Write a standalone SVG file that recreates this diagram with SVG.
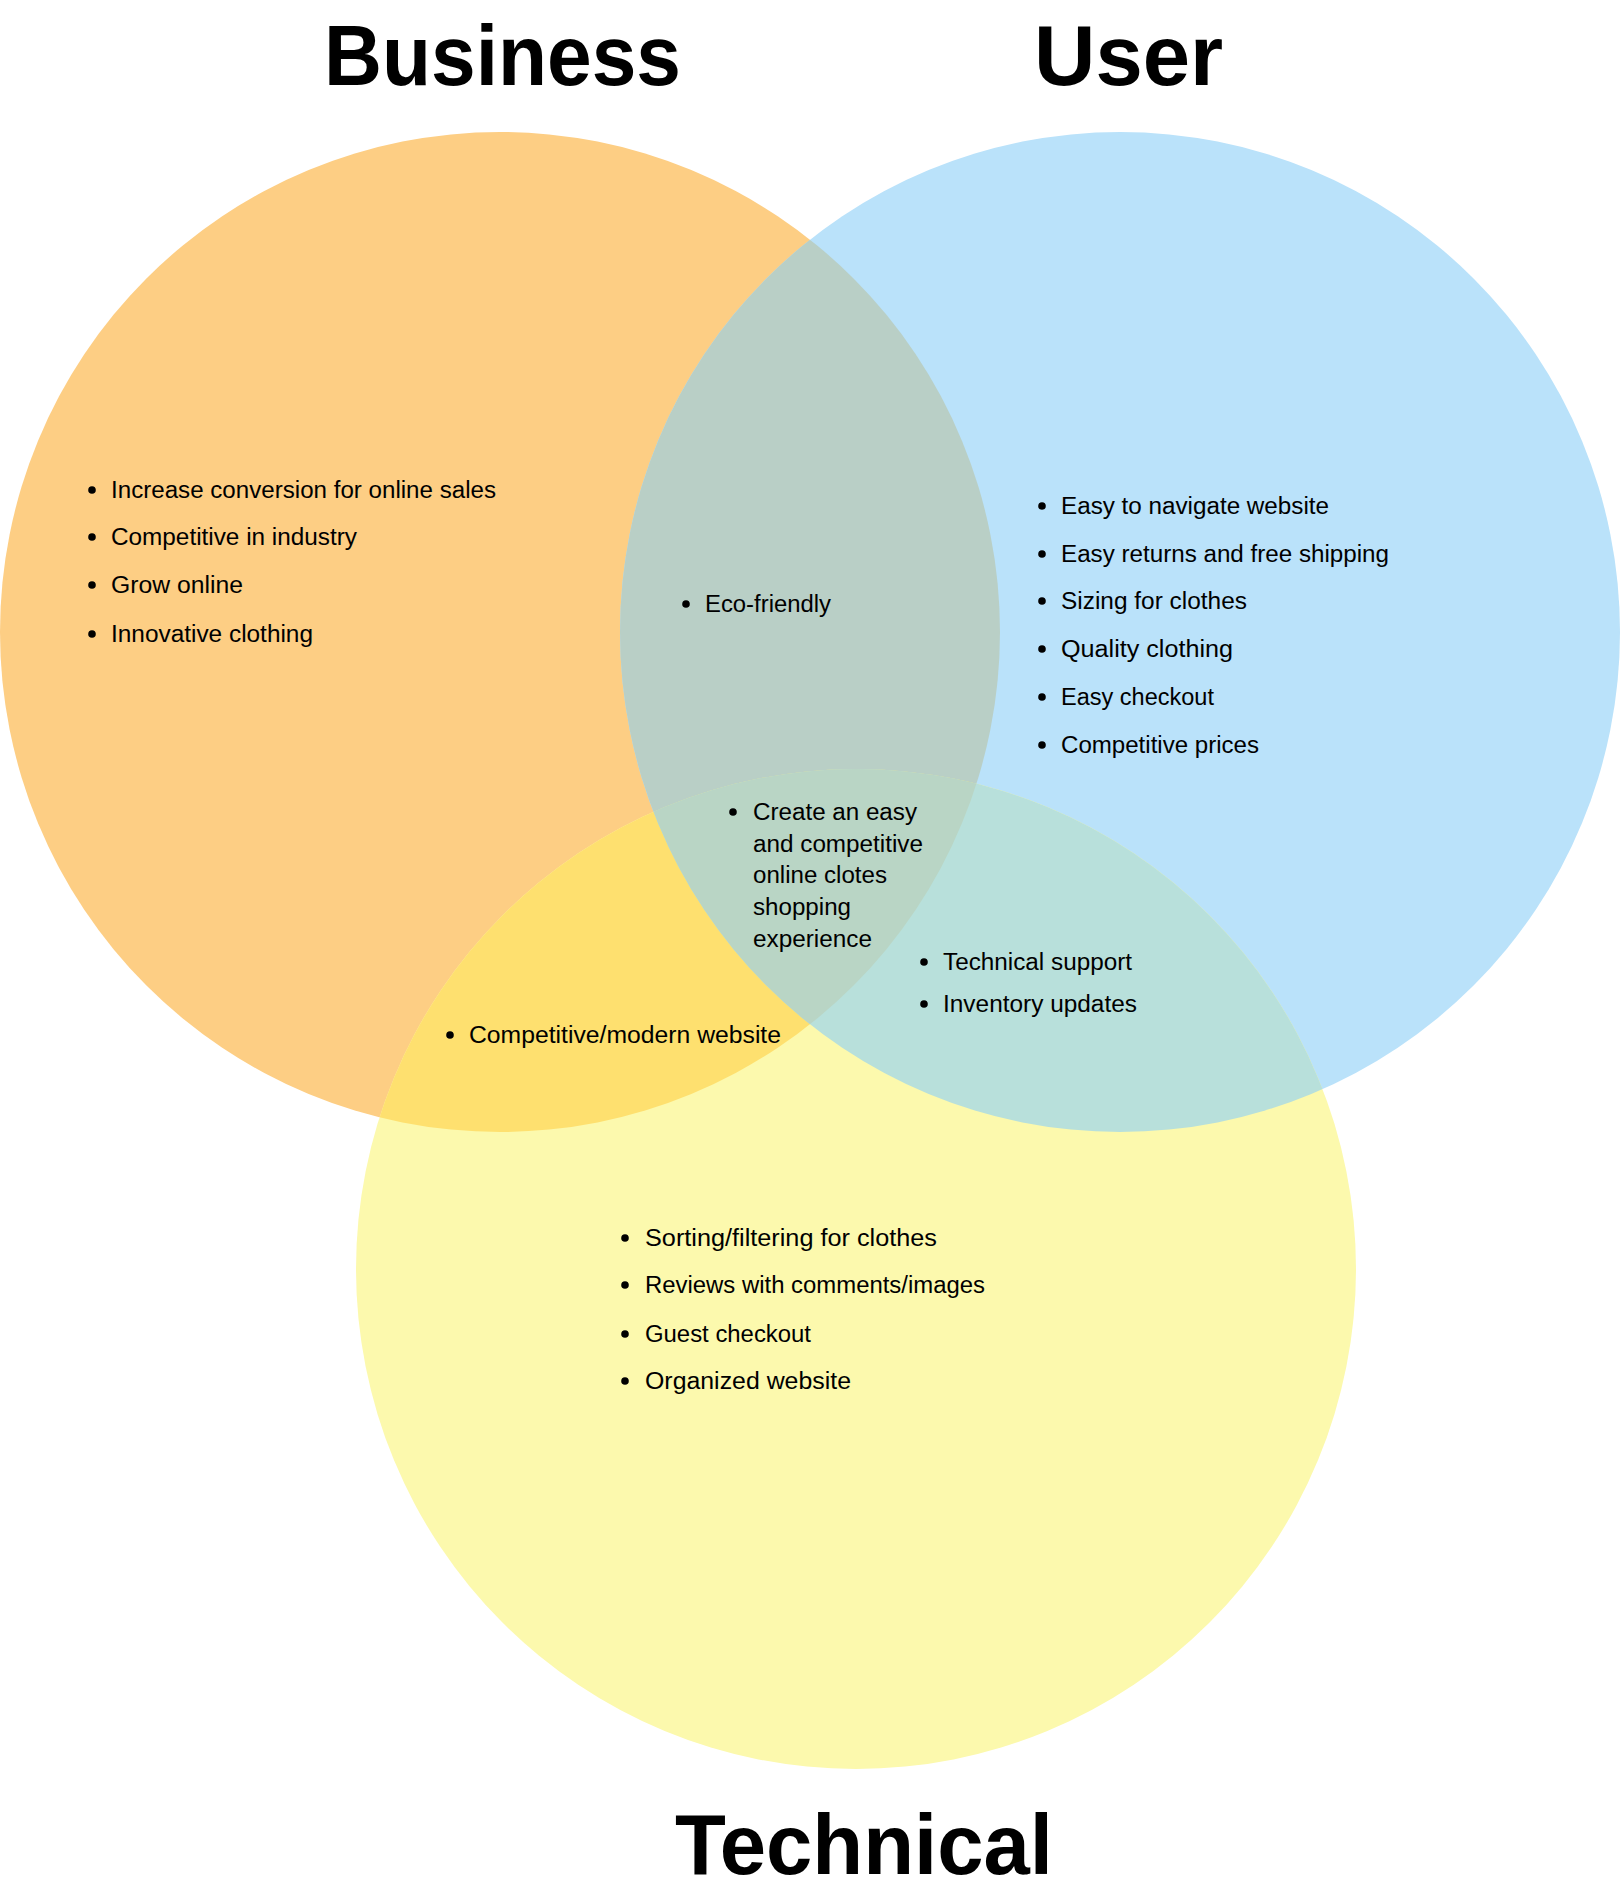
<svg xmlns="http://www.w3.org/2000/svg" width="1620" height="1896" viewBox="0 0 1620 1896">
<style>
.title{font-family:"Liberation Sans",Arial,sans-serif;font-weight:bold;font-size:85px;fill:#000;}
.item{font-family:"Liberation Sans",Arial,sans-serif;font-size:23px;fill:#000;}
.dot{fill:#000;}
</style>
<defs>
<clipPath id="cB"><circle cx="500" cy="632" r="500"/></clipPath>
<clipPath id="cU"><circle cx="1120" cy="632" r="500"/></clipPath>
<clipPath id="cT"><circle cx="856" cy="1269" r="500"/></clipPath>
</defs>
<rect width="1620" height="1896" fill="#ffffff"/>
<g id="regions">
<circle cx="500" cy="632" r="500" fill="#FDCE84"/>
<circle cx="1120" cy="632" r="500" fill="#BAE2FA"/>
<circle cx="856" cy="1269" r="500" fill="#FCF9AD"/>
<g clip-path="url(#cB)"><circle cx="1120" cy="632" r="500" fill="#B9CFC6"/></g>
<g clip-path="url(#cB)"><circle cx="856" cy="1269" r="500" fill="#FEE06F"/></g>
<g clip-path="url(#cU)"><circle cx="856" cy="1269" r="500" fill="#B8E0DB"/></g>
<g clip-path="url(#cB)"><g clip-path="url(#cU)"><circle cx="856" cy="1269" r="500" fill="#B9D5C5"/></g></g>
</g>
<g id="business">
<text class="title" x="324" y="85" textLength="357" lengthAdjust="spacingAndGlyphs">Business</text>
<circle class="dot" cx="92" cy="490" r="3.8"/><text class="item" x="111" y="498" textLength="385" lengthAdjust="spacingAndGlyphs">Increase conversion for online sales</text>
<circle class="dot" cx="92" cy="537" r="3.8"/><text class="item" x="111" y="545" textLength="246" lengthAdjust="spacingAndGlyphs">Competitive in industry</text>
<circle class="dot" cx="92" cy="585" r="3.8"/><text class="item" x="111" y="593" textLength="132" lengthAdjust="spacingAndGlyphs">Grow online</text>
<circle class="dot" cx="92" cy="634" r="3.8"/><text class="item" x="111" y="642" textLength="202" lengthAdjust="spacingAndGlyphs">Innovative clothing</text>
</g>
<g id="user">
<text class="title" x="1034" y="85" textLength="189" lengthAdjust="spacingAndGlyphs">User</text>
<circle class="dot" cx="1042" cy="506" r="3.8"/><text class="item" x="1061" y="514" textLength="268" lengthAdjust="spacingAndGlyphs">Easy to navigate website</text>
<circle class="dot" cx="1042" cy="554" r="3.8"/><text class="item" x="1061" y="562" textLength="328" lengthAdjust="spacingAndGlyphs">Easy returns and free shipping</text>
<circle class="dot" cx="1042" cy="601" r="3.8"/><text class="item" x="1061" y="609" textLength="186" lengthAdjust="spacingAndGlyphs">Sizing for clothes</text>
<circle class="dot" cx="1042" cy="649" r="3.8"/><text class="item" x="1061" y="657" textLength="172" lengthAdjust="spacingAndGlyphs">Quality clothing</text>
<circle class="dot" cx="1042" cy="697" r="3.8"/><text class="item" x="1061" y="705" textLength="153" lengthAdjust="spacingAndGlyphs">Easy checkout</text>
<circle class="dot" cx="1042" cy="745" r="3.8"/><text class="item" x="1061" y="753" textLength="198" lengthAdjust="spacingAndGlyphs">Competitive prices</text>
</g>
<g id="technical">
<text class="title" x="675" y="1874" textLength="378" lengthAdjust="spacingAndGlyphs">Technical</text>
<circle class="dot" cx="625" cy="1238" r="3.8"/><text class="item" x="645" y="1246" textLength="292" lengthAdjust="spacingAndGlyphs">Sorting/filtering for clothes</text>
<circle class="dot" cx="625" cy="1285" r="3.8"/><text class="item" x="645" y="1293" textLength="340" lengthAdjust="spacingAndGlyphs">Reviews with comments/images</text>
<circle class="dot" cx="625" cy="1334" r="3.8"/><text class="item" x="645" y="1342" textLength="166" lengthAdjust="spacingAndGlyphs">Guest checkout</text>
<circle class="dot" cx="625" cy="1381" r="3.8"/><text class="item" x="645" y="1389" textLength="206" lengthAdjust="spacingAndGlyphs">Organized website</text>
</g>
<g id="business-user">
<circle class="dot" cx="686" cy="604" r="3.8"/><text class="item" x="705" y="612" textLength="126" lengthAdjust="spacingAndGlyphs">Eco-friendly</text>
</g>
<g id="business-technical">
<circle class="dot" cx="450" cy="1035" r="3.8"/><text class="item" x="469" y="1043" textLength="312" lengthAdjust="spacingAndGlyphs">Competitive/modern website</text>
</g>
<g id="user-technical">
<circle class="dot" cx="924" cy="962" r="3.8"/><text class="item" x="943" y="970" textLength="189" lengthAdjust="spacingAndGlyphs">Technical support</text>
<circle class="dot" cx="924" cy="1004" r="3.8"/><text class="item" x="943" y="1012" textLength="194" lengthAdjust="spacingAndGlyphs">Inventory updates</text>
</g>
<g id="all-three">
<circle class="dot" cx="733" cy="812" r="3.8"/>
<text class="item" x="753" y="820" textLength="164" lengthAdjust="spacingAndGlyphs">Create an easy</text>
<text class="item" x="753" y="852" textLength="170" lengthAdjust="spacingAndGlyphs">and competitive</text>
<text class="item" x="753" y="883" textLength="134" lengthAdjust="spacingAndGlyphs">online clotes</text>
<text class="item" x="753" y="915" textLength="98" lengthAdjust="spacingAndGlyphs">shopping</text>
<text class="item" x="753" y="947" textLength="119" lengthAdjust="spacingAndGlyphs">experience</text>
</g>
<g id="connectors"></g>
</svg>
